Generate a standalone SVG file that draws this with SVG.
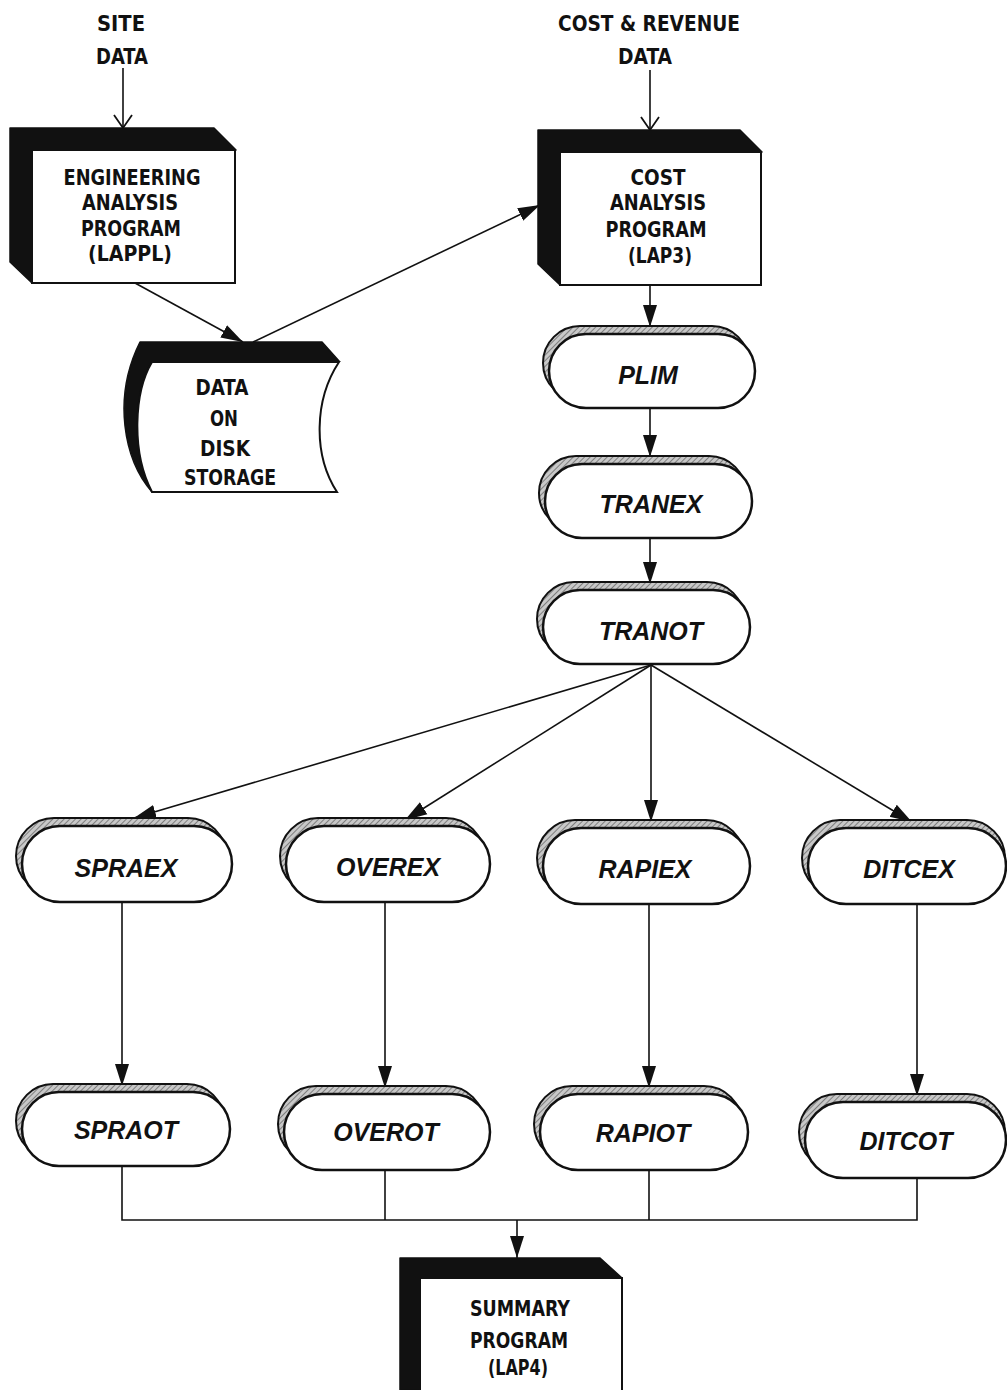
<svg xmlns="http://www.w3.org/2000/svg" width="1007" height="1390" viewBox="0 0 1007 1390">
  <style>
    .blk { font-family: "DejaVu Sans Condensed", "DejaVu Sans", sans-serif; font-weight: bold; font-size: 22px; fill: #111; text-anchor: middle; }
    .pill { font-family: "Liberation Sans", Arial, sans-serif; font-weight: bold; font-style: italic; font-size: 25px; fill: #111; text-anchor: middle; }
    .dark { fill: #111; stroke: #111; stroke-width: 1.5; stroke-linejoin: round; }
    .face { fill: #fff; stroke: #111; stroke-width: 2; }
    .shade { fill: url(#hatch); stroke: #111; stroke-width: 2; }
    .front { fill: #fff; stroke: #111; stroke-width: 2.5; }
    .ln { fill: none; stroke: #111; stroke-width: 1.6; }
  </style>
  <defs>
    <pattern id="hatch" width="4" height="4" patternUnits="userSpaceOnUse" patternTransform="rotate(45)">
      <rect width="4" height="4" fill="#c8c8c8"/>
      <line x1="0" y1="0" x2="0" y2="4" stroke="#555" stroke-width="1.3"/>
    </pattern>
    <marker id="tri" markerUnits="userSpaceOnUse" markerWidth="24" markerHeight="16" refX="22" refY="8" orient="auto">
      <path d="M0,1 L22,8 L0,15 Z" fill="#111"/>
    </marker>
    <marker id="vee" markerUnits="userSpaceOnUse" markerWidth="18" markerHeight="22" refX="14" refY="10" orient="auto">
      <path d="M1,1 L14,10 L1,19" fill="none" stroke="#111" stroke-width="1.8"/>
    </marker>
  </defs>

  <rect width="1007" height="1390" fill="#fff"/>

  <!-- input labels -->
  <g id="site-data">
    <text class="blk" x="121" y="31" textLength="48" lengthAdjust="spacingAndGlyphs">SITE</text>
    <text class="blk" x="122" y="64" textLength="52" lengthAdjust="spacingAndGlyphs">DATA</text>
  </g>
  <g id="cost-revenue-data">
    <text class="blk" x="649" y="31" textLength="182" lengthAdjust="spacingAndGlyphs">COST &amp; REVENUE</text>
    <text class="blk" x="645" y="64" textLength="54" lengthAdjust="spacingAndGlyphs">DATA</text>
  </g>

  <!-- connectors -->
  <g id="connectors">
    <line class="ln" x1="123" y1="68" x2="123" y2="128" marker-end="url(#vee)"/>
    <line class="ln" x1="650" y1="70" x2="650" y2="130" marker-end="url(#vee)"/>
    <line class="ln" x1="135" y1="283" x2="243" y2="342" marker-end="url(#tri)"/>
    <line class="ln" x1="253" y1="342" x2="540" y2="205" marker-end="url(#tri)"/>
    <line class="ln" x1="650" y1="285" x2="650" y2="327" marker-end="url(#tri)"/>
    <line class="ln" x1="650" y1="408" x2="650" y2="457" marker-end="url(#tri)"/>
    <line class="ln" x1="650" y1="538" x2="650" y2="584" marker-end="url(#tri)"/>
    <line class="ln" x1="651" y1="665" x2="134" y2="818" marker-end="url(#tri)"/>
    <line class="ln" x1="651" y1="665" x2="405" y2="820" marker-end="url(#tri)"/>
    <line class="ln" x1="651" y1="665" x2="651" y2="822" marker-end="url(#tri)"/>
    <line class="ln" x1="651" y1="665" x2="912" y2="822" marker-end="url(#tri)"/>
    <line class="ln" x1="122" y1="903" x2="122" y2="1086" marker-end="url(#tri)"/>
    <line class="ln" x1="385" y1="903" x2="385" y2="1088" marker-end="url(#tri)"/>
    <line class="ln" x1="649" y1="904" x2="649" y2="1088" marker-end="url(#tri)"/>
    <line class="ln" x1="917" y1="904" x2="917" y2="1096" marker-end="url(#tri)"/>
    <polyline class="ln" points="122,1166 122,1220 917,1220 917,1178"/>
    <line class="ln" x1="385" y1="1170" x2="385" y2="1220"/>
    <line class="ln" x1="649" y1="1170" x2="649" y2="1220"/>
    <line class="ln" x1="517" y1="1220" x2="517" y2="1258" marker-end="url(#tri)"/>
  </g>

  <!-- program blocks -->
  <g id="engineering-analysis">
    <path class="dark" d="M10,128 L214,128 L236,150 L32,150 L32,283 L10,262 Z"/>
    <rect class="face" x="32" y="150" width="203" height="133"/>
    <text class="blk" x="132" y="185" textLength="137" lengthAdjust="spacingAndGlyphs">ENGINEERING</text>
    <text class="blk" x="130" y="210" textLength="96" lengthAdjust="spacingAndGlyphs">ANALYSIS</text>
    <text class="blk" x="131" y="236" textLength="100" lengthAdjust="spacingAndGlyphs">PROGRAM</text>
    <text class="blk" x="130" y="261" textLength="84" lengthAdjust="spacingAndGlyphs">(LAPPL)</text>
  </g>

  <g id="cost-analysis">
    <path class="dark" d="M538,130 L740,130 L762,152 L560,152 L560,285 L538,264 Z"/>
    <rect class="face" x="560" y="152" width="201" height="133"/>
    <text class="blk" x="658" y="185" textLength="55" lengthAdjust="spacingAndGlyphs">COST</text>
    <text class="blk" x="658" y="210" textLength="96" lengthAdjust="spacingAndGlyphs">ANALYSIS</text>
    <text class="blk" x="656" y="237" textLength="101" lengthAdjust="spacingAndGlyphs">PROGRAM</text>
    <text class="blk" x="660" y="263" textLength="64" lengthAdjust="spacingAndGlyphs">(LAP3)</text>
  </g>

  <g id="disk-storage">
    <path class="dark" d="M140,342 L322,342 L339,361 L152,362 C134,392 131,452 152,492 C124,460 112,398 140,342 Z"/>
    <path class="face" d="M152,362 L339,362 C314,400 313,455 337,492 L152,492 C131,452 134,392 152,362 Z"/>
    <text class="blk" x="222" y="395" textLength="53" lengthAdjust="spacingAndGlyphs">DATA</text>
    <text class="blk" x="224" y="426" textLength="28" lengthAdjust="spacingAndGlyphs">ON</text>
    <text class="blk" x="225" y="456" textLength="50" lengthAdjust="spacingAndGlyphs">DISK</text>
    <text class="blk" x="230" y="485" textLength="92" lengthAdjust="spacingAndGlyphs">STORAGE</text>
  </g>

  <g id="summary">
    <path class="dark" d="M400,1258 L600,1258 L622,1278 L420,1278 L420,1390 L400,1390 Z"/>
    <rect class="face" x="420" y="1278" width="202" height="116"/>
    <text class="blk" x="520" y="1316" textLength="100" lengthAdjust="spacingAndGlyphs">SUMMARY</text>
    <text class="blk" x="519" y="1348" textLength="98" lengthAdjust="spacingAndGlyphs">PROGRAM</text>
    <text class="blk" x="518" y="1375" textLength="60" lengthAdjust="spacingAndGlyphs">(LAP4)</text>
  </g>

  <!-- subroutine terminators -->
  <g id="plim">
    <rect class="shade" x="543" y="326" width="206" height="74" rx="37"/>
    <rect class="front" x="549" y="334" width="206" height="74" rx="37"/>
    <text class="pill" x="648" y="384">PLIM</text>
  </g>
  <g id="tranex">
    <rect class="shade" x="539" y="456" width="207" height="74" rx="37"/>
    <rect class="front" x="545" y="464" width="207" height="74" rx="37"/>
    <text class="pill" x="651" y="513">TRANEX</text>
  </g>
  <g id="tranot">
    <rect class="shade" x="537" y="582" width="207" height="74" rx="37"/>
    <rect class="front" x="543" y="590" width="207" height="74" rx="37"/>
    <text class="pill" x="651" y="640">TRANOT</text>
  </g>
  <g id="spraex">
    <rect class="shade" x="16" y="818" width="210" height="76" rx="38"/>
    <rect class="front" x="22" y="826" width="210" height="76" rx="38"/>
    <text class="pill" x="126" y="877">SPRAEX</text>
  </g>
  <g id="overex">
    <rect class="shade" x="280" y="818" width="204" height="76" rx="38"/>
    <rect class="front" x="286" y="826" width="204" height="76" rx="38"/>
    <text class="pill" x="388" y="876">OVEREX</text>
  </g>
  <g id="rapiex">
    <rect class="shade" x="537" y="820" width="207" height="76" rx="38"/>
    <rect class="front" x="543" y="828" width="207" height="76" rx="38"/>
    <text class="pill" x="645" y="878">RAPIEX</text>
  </g>
  <g id="ditcex">
    <rect class="shade" x="802" y="820" width="203" height="76" rx="38"/>
    <rect class="front" x="808" y="828" width="198" height="76" rx="38"/>
    <text class="pill" x="909" y="878">DITCEX</text>
  </g>
  <g id="spraot">
    <rect class="shade" x="16" y="1084" width="208" height="74" rx="37"/>
    <rect class="front" x="22" y="1092" width="208" height="74" rx="37"/>
    <text class="pill" x="126" y="1139">SPRAOT</text>
  </g>
  <g id="overot">
    <rect class="shade" x="278" y="1086" width="206" height="76" rx="38"/>
    <rect class="front" x="284" y="1094" width="206" height="76" rx="38"/>
    <text class="pill" x="386" y="1141">OVEROT</text>
  </g>
  <g id="rapiot">
    <rect class="shade" x="534" y="1086" width="208" height="76" rx="38"/>
    <rect class="front" x="540" y="1094" width="208" height="76" rx="38"/>
    <text class="pill" x="643" y="1142">RAPIOT</text>
  </g>
  <g id="ditcot">
    <rect class="shade" x="799" y="1094" width="206" height="76" rx="38"/>
    <rect class="front" x="805" y="1102" width="201" height="76" rx="38"/>
    <text class="pill" x="906" y="1150">DITCOT</text>
  </g>
</svg>
